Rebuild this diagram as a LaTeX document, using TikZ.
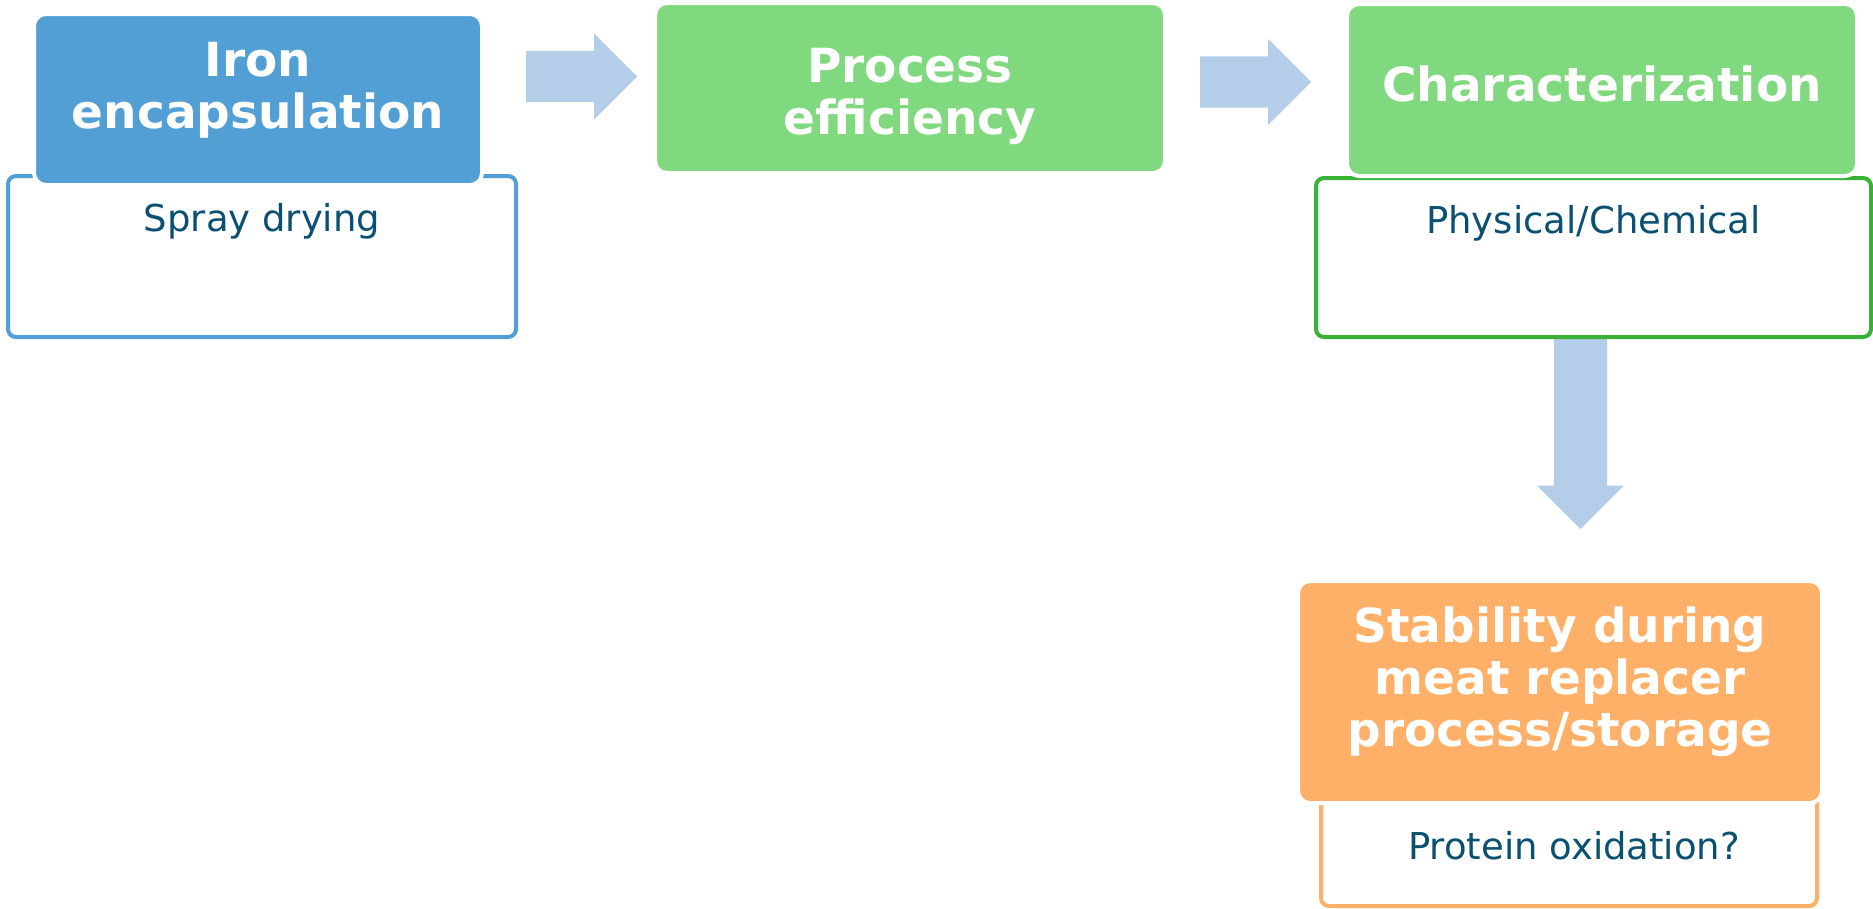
\documentclass[tikz,border=0pt]{standalone}
\usepackage{fontspec}
\setmainfont{DejaVu Sans}
\usepackage{xcolor}
\usepackage{tikz}
\usetikzlibrary{shapes.arrows}
\definecolor{ironblue}{HTML}{529FD6}
\definecolor{stepgreen}{HTML}{80D97F}
\definecolor{linegreen}{HTML}{37B234}
\definecolor{meatorange}{HTML}{FFB068}
\definecolor{arrowblue}{HTML}{B4CDE8}
\definecolor{darkteal}{HTML}{0A5070}

\tikzset{
  mainbox/.style={rounded corners=12pt, draw=white, line width=4pt, inner sep=0pt},
  maintext/.style={text=white, align=center, inner sep=0pt,
        font=\fontsize{47}{52}\selectfont\bfseries},
  subbox/.style={rounded corners=8pt, fill=white, line width=4pt, inner sep=0pt},
  subtext/.style={text=darkteal, font=\fontsize{37}{44}\selectfont},
  flowarrow/.style={single arrow, fill=arrowblue, inner sep=0pt, inner ysep=25.5pt,
        single arrow head extend=17.5pt, minimum height=111pt, anchor=tail},
}

\begin{document}
\begin{tikzpicture}[x=1pt, y=-1pt]
  \useasboundingbox (0,0) rectangle (1873,908);

  % arrows between the steps
  \node[flowarrow] (arrA) at (526,76.5) {};
  \node[flowarrow] (arrB) at (1200,82) {};
  \node[flowarrow, minimum height=192pt, inner ysep=26.5pt,
        single arrow head extend=17pt, rotate=-90] (arrC) at (1580.5,337) {};

  % boxes below the steps
  \node[subbox, draw=ironblue, minimum width=508pt, minimum height=161pt] (spray) at (262,256.5) {};
  \node[subtext] (spraytxt) at ([yshift=-47pt]spray.north) {Spray drying};
  \node[subbox, draw=linegreen, minimum width=555pt, minimum height=159pt] (phys) at (1593.5,257.5) {};
  \node[subtext] (physitxt) at ([yshift=-47pt]phys.north) {Physical/Chemical};
  \node[subbox, draw=meatorange, minimum width=496pt, minimum height=116pt] (prot) at (1569,848) {};
  \node[subtext] (prottxt) at ([xshift=5pt, yshift=62pt]prot.south) {Protein oxidation?};

  % the steps
  \node[mainbox, fill=ironblue, minimum width=448pt, minimum height=171pt] (iron) at (258,99.5) {};
  \node[maintext] (irontxt) at ([yshift=9pt]iron.center) {Iron\\encapsulation};
  \node[mainbox, fill=stepgreen, minimum width=510pt, minimum height=170pt] (proc) at (910,88) {};
  \node[maintext] (proctxt) at ([yshift=-8pt]proc.center) {Process\\efficiency};
  \node[mainbox, fill=stepgreen, minimum width=510pt, minimum height=172pt] (charac) at (1602,90) {};
  \node[maintext] (charactxt) at ([yshift=6pt]charac.center) {Characterization};
  \node[mainbox, fill=meatorange, minimum width=524pt, minimum height=222pt] (stab) at (1560,692) {};
  \node[maintext] (stabtxt) at ([yshift=10pt]stab.center) {Stability during\\meat replacer\\process/storage};
\end{tikzpicture}
\end{document}
